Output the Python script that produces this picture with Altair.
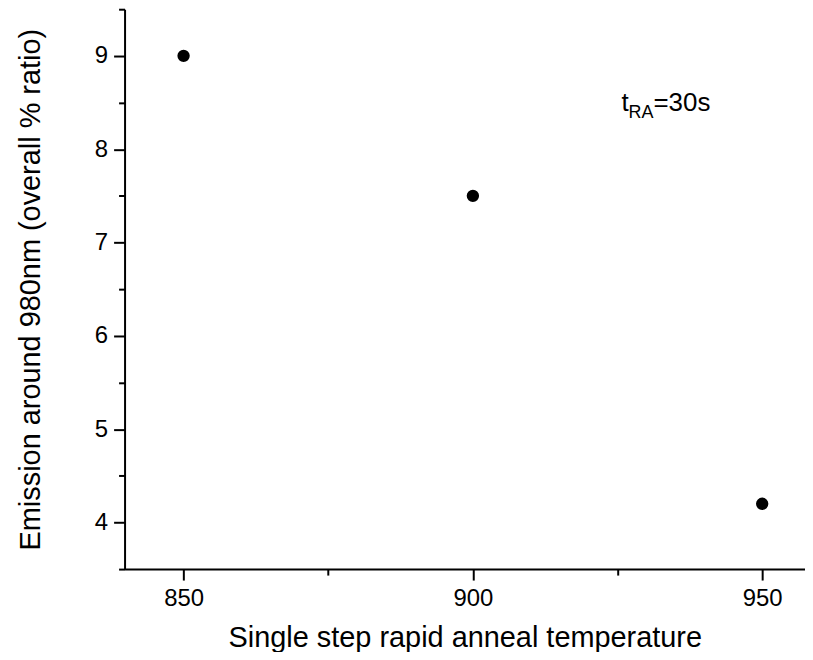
import altair as alt
import pandas as pd

# data
temps = [850, 900, 950]
emission = [9.0, 7.5, 4.2]

x_major = [850, 900, 950]
x_minor = [875, 925]
y_major = [4, 5, 6, 7, 8, 9]
y_minor = [3.5, 4.5, 5.5, 6.5, 7.5, 8.5, 9.5]

x_domain = [839.8, 957.4]
y_domain = [3.5, 9.5]

ann_x = [925.7]
ann_y = [8.41]

FONT = "Liberation Sans"

df = pd.DataFrame({"temp": temps, "em": emission})
ann = pd.DataFrame({"x": ann_x, "y": ann_y})

xs = alt.Scale(domain=x_domain, nice=False, zero=False)
ys = alt.Scale(domain=y_domain, nice=False, zero=False)

common = dict(domainColor="black", domainWidth=2, tickColor="black", tickWidth=2,
              labelColor="black", labelFont=FONT, labelFontSize=24, grid=False,
              titleFont=FONT, titleFontSize=29, titleFontWeight="normal", titleColor="black")

x_axis = alt.Axis(values=x_major, tickSize=11, labelPadding=7, orient="bottom",
                  title="Single step rapid anneal temperature", titlePadding=13,
                  labelFlush=False, format="d", **common)
y_axis = alt.Axis(values=y_major, tickSize=11, labelPadding=6, orient="left",
                  title="Emission around 980nm (overall % ratio)", titlePadding=49,
                  labelFlush=False, format="d", **common)

x_axis_minor = alt.Axis(values=x_minor, tickSize=6, labels=False, orient="bottom",
                        title=None, domain=False, tickColor="black", tickWidth=2, grid=False)
y_axis_minor = alt.Axis(values=y_minor, tickSize=6, labels=False, orient="left",
                        title=None, domain=False, tickColor="black", tickWidth=2, grid=False)

points = alt.Chart(df).mark_circle(size=154, color="black", opacity=1).encode(
    x=alt.X("temp:Q", scale=xs, axis=x_axis),
    y=alt.Y("em:Q", scale=ys, axis=y_axis),
)

minor = alt.Chart(df).mark_circle(opacity=0).encode(
    x=alt.X("temp:Q", scale=xs, axis=x_axis_minor),
    y=alt.Y("em:Q", scale=ys, axis=y_axis_minor),
)

t1 = alt.Chart(ann).mark_text(text="t", align="left", baseline="alphabetic",
                               font=FONT, fontSize=26, color="black").encode(
    x=alt.X("x:Q", scale=xs, axis=None), y=alt.Y("y:Q", scale=ys, axis=None))
t2 = alt.Chart(ann).mark_text(text="RA", align="left", baseline="alphabetic",
                               font=FONT, fontSize=18, color="black", dx=7, dy=7).encode(
    x=alt.X("x:Q", scale=xs, axis=None), y=alt.Y("y:Q", scale=ys, axis=None))
t3 = alt.Chart(ann).mark_text(text="=30s", align="left", baseline="alphabetic",
                               font=FONT, fontSize=26, color="black", dx=32).encode(
    x=alt.X("x:Q", scale=xs, axis=None), y=alt.Y("y:Q", scale=ys, axis=None))

chart = alt.layer(points, minor, t1, t2, t3).resolve_axis(
    x="independent", y="independent"
).properties(
    width=683, height=562,
    autosize=alt.AutoSizeParams(type="none"),
    padding={"left": 117, "top": 0, "right": 0, "bottom": 82},
).configure_view(stroke=None)

chart.save("out.html", embed_options={"renderer": "svg", "actions": False})
